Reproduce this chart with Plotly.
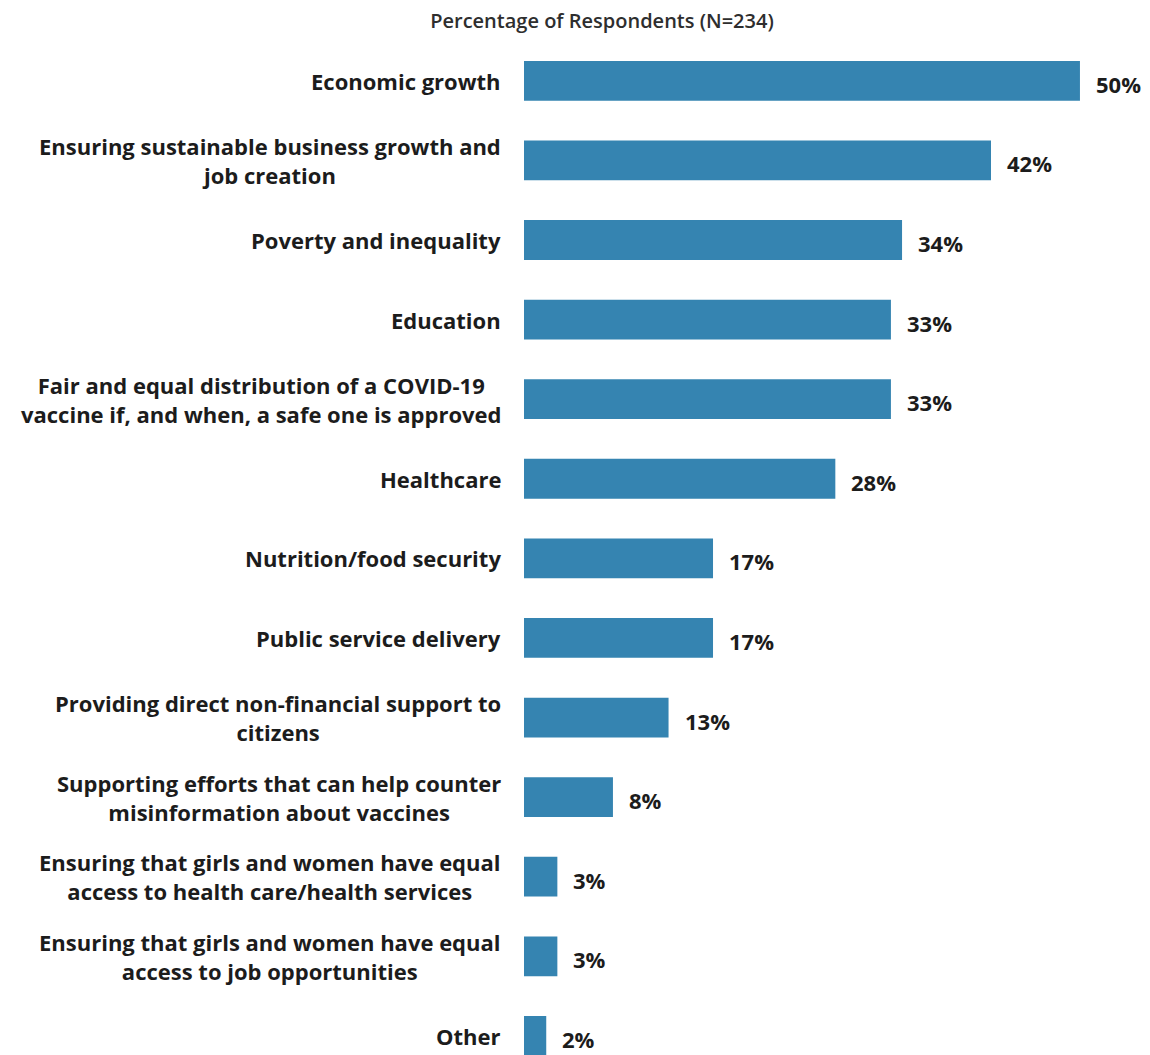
import plotly.graph_objects as go

categories = [
    "Economic growth",
    "Ensuring sustainable business growth and<br>job creation",
    "Poverty and inequality",
    "Education",
    "Fair and equal distribution of a COVID-19<br>vaccine if, and when, a safe one is approved",
    "Healthcare",
    "Nutrition/food security",
    "Public service delivery",
    "Providing direct non-financial support to<br>citizens",
    "Supporting efforts that can help counter<br>misinformation about vaccines",
    "Ensuring that girls and women have equal<br>access to health care/health services",
    "Ensuring that girls and women have equal<br>access to job opportunities",
    "Other",
]
values = [50, 42, 34, 33, 33, 28, 17, 17, 13, 8, 3, 3, 2]
value_labels = ["50%", "42%", "34%", "33%", "33%", "28%", "17%", "17%", "13%", "8%", "3%", "3%", "2%"]
title_text = "Percentage of Respondents (N=234)"

BAR = "#3584b1"
TXT = "#1c1c1c"
FONT = "Open Sans"

W, H = 1142, 1047
L, T = 516, 33

fig = go.Figure()
fig.add_trace(go.Bar(
    x=values, y=list(range(len(categories))), orientation="h",
    marker=dict(color=BAR, line=dict(width=0)), width=0.5,
    hoverinfo="skip",
))

ann = []
for i, (c, v, t) in enumerate(zip(categories, values, value_labels)):
    ann.append(dict(x=0, y=i, xref="x", yref="y", text=c,
                    xanchor="right", yanchor="middle", align="center", xshift=-21,
                    showarrow=False, font=dict(family=FONT, size=22, color=TXT, weight=700)))
    ann.append(dict(x=v, y=i, xref="x", yref="y", text=t,
                    xanchor="left", yanchor="middle", xshift=14, yshift=-3,
                    showarrow=False, font=dict(family=FONT, size=22, color=TXT, weight=700)))

fig.update_layout(
    width=W, height=H,
    margin=dict(l=L, r=0, t=T, b=0),
    paper_bgcolor="white", plot_bgcolor="white",
    showlegend=False,
    annotations=ann,
    title=dict(text=title_text, x=594 / W, y=1 - 13 / H, xref="container", yref="container",
               xanchor="center", yanchor="middle",
               font=dict(family=FONT, size=20, color="#2e2e2e", weight=600)),
    xaxis=dict(range=[0, 56.3], visible=False, fixedrange=True),
    yaxis=dict(range=[12.24, -0.5], visible=False, fixedrange=True),
)

fig.write_html("out.html")
